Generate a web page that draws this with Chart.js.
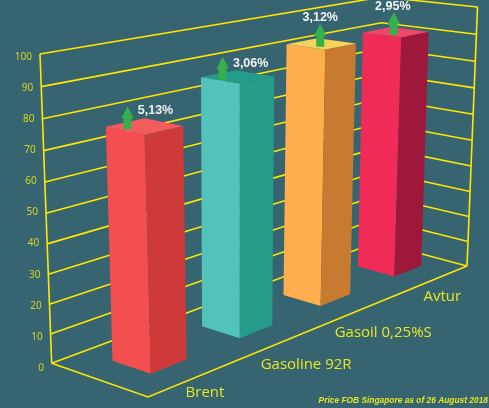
<!DOCTYPE html>
<html><head><meta charset="utf-8">
<script src="https://cdn.jsdelivr.net/npm/chart.js@4"></script>
<style>html,body{margin:0;padding:0;background:#366471;overflow:hidden}canvas{display:block}</style>
</head><body><canvas id="c" width="489" height="408"></canvas>
<script>
// ---- data ----
const categories = ['Brent', 'Gasoline 92R', 'Gasoil 0,25%S', 'Avtur'];
const prices = [77, 86.5, 92, 91];
const changes = ['5,13%', '3,06%', '3,12%', '2,95%'];
const yTicks = [0, 10, 20, 30, 40, 50, 60, 70, 80, 90, 100];
const sourceNote = 'Price FOB Singapore as of 26 August 2018';
// ---- colours ----
const frontColors = ['#F44F4F', '#52C2BA', '#FFAE4D', '#F02B55'];
const sideColors = ['#CE3939', '#259C8A', '#C67B30', '#9E183C'];
const topColors = ['#F45B5B', '#259C8A', '#F5D35B', '#F0466A'];
// ---- view of the box (screen corners of the floor and the roof) ----
const floorQuad = { F: [148, 397], R: [467, 266], B: [377, 242], L: [51.7, 363.3] };
const roofQuad = { F: [137, 71], R: [477.5, 7], B: [382, -3], L: [40, 54] };
const verticalBias = 1.06;
const depthRange = [0.3, 0.7];
const barNudge = 0.009;
const arrowShift = [[-17, 3], [-15, 3], [-1, 3], [-2, 3]];
const noteShift = [[28, -19], [28, -16], [0, -29], [-1, -29]];
const labelShift = [[10, 15], [24, 23], [22, 23], [9, 17]];

function quadMap(q) {
  const [x0, y0] = q.F, [x1, y1] = q.R, [x2, y2] = q.B, [x3, y3] = q.L;
  const dx1 = x1 - x2, dx2 = x3 - x2, sx = x0 - x1 + x2 - x3;
  const dy1 = y1 - y2, dy2 = y3 - y2, sy = y0 - y1 + y2 - y3;
  const d = dx1 * dy2 - dx2 * dy1;
  const g = (sx * dy2 - dx2 * sy) / d, h = (dx1 * sy - sx * dy1) / d;
  const a = x1 - x0 + g * x1, b = x3 - x0 + h * x3, c = x0;
  const e = y1 - y0 + g * y1, f = y3 - y0 + h * y3, k = y0;
  return (s, t) => {
    const w = g * s + h * t + 1;
    return [(a * s + b * t + c) / w, (e * s + f * t + k) / w];
  };
}
const floorAt = quadMap(floorQuad), roofAt = quadMap(roofQuad);
function project(s, t, v) {
  const p = floorAt(s, t), q = roofAt(s, t);
  const m = v / (v + (1 - v) * verticalBias);
  return [p[0] + (q[0] - p[0]) * m, p[1] + (q[1] - p[1]) * m];
}
function poly(ctx, pts, fill) {
  ctx.beginPath();
  pts.forEach((p, i) => i ? ctx.lineTo(p[0], p[1]) : ctx.moveTo(p[0], p[1]));
  ctx.closePath();
  ctx.fillStyle = fill;
  ctx.fill();
}
function path(ctx, pts) {
  ctx.beginPath();
  pts.forEach((p, i) => i ? ctx.lineTo(p[0], p[1]) : ctx.moveTo(p[0], p[1]));
  ctx.stroke();
}
function barBox(chart, el) {
  const a = chart.chartArea, { x, y, base, width } = el.getProps(['x', 'y', 'base', 'width'], true);
  return {
    s0: (x - width / 2 - a.left) / a.width + barNudge,
    s1: (x + width / 2 - a.left) / a.width + barNudge,
    v: (base - y) / a.height
  };
}
class Bar3DController extends Chart.BarController {
  draw() {
    const chart = this.chart, ctx = chart.ctx;
    const els = this.getMeta().data;
    for (let i = els.length - 1; i >= 0; i--) {
      const { s0, s1, v } = barBox(chart, els[i]);
      const [t0, t1] = depthRange;
      const c = (s, t, h) => project(s, t, h);
      poly(ctx, [c(s0, t1, 0), c(s0, t0, 0), c(s0, t0, v), c(s0, t1, v)], frontColors[i]);
      poly(ctx, [c(s0, t0, 0), c(s1, t0, 0), c(s1, t0, v), c(s0, t0, v)], sideColors[i]);
      poly(ctx, [c(s0, t0, v), c(s1, t0, v), c(s1, t1, v), c(s0, t1, v)], topColors[i]);
    }
  }
}
Bar3DController.id = 'bar3d';
Bar3DController.defaults = Chart.BarController.defaults;
Chart.register(Bar3DController);

const wallPlugin = {
  id: 'wall',
  beforeDatasetsDraw(chart) {
    const ctx = chart.ctx, y = chart.scales.y, x = chart.scales.x;
    ctx.save();
    ctx.strokeStyle = '#FFE800';
    ctx.lineWidth = 1.6;
    y.ticks.forEach(tick => {
      const v = (y.bottom - y.getPixelForValue(tick.value)) / y.height;
      path(ctx, [project(0, 1, v), project(1, 1, v), project(1, 0, v)]);
      ctx.fillStyle = '#D6D61F';
      ctx.font = "10px 'Noto Sans'";
      ctx.textAlign = 'right';
      ctx.textBaseline = 'middle';
      ctx.fillText(String(tick.value), 44 - 12 * v, y.getPixelForValue(tick.value));
    });
    path(ctx, [project(0, 1, 0), project(0, 1, 1)]);
    path(ctx, [project(1, 0, 0), project(1, 0, 1)]);
    path(ctx, [project(0, 1, 0), project(0, 0, 0), project(1, 0, 0)]);
    ctx.fillStyle = '#E8E820';
    ctx.font = "15px 'Open Sans'";
    ctx.textAlign = 'center';
    ctx.textBaseline = 'middle';
    categories.forEach((name, i) => {
      const s = (x.getPixelForValue(i) - x.left) / x.width;
      const p = project(s, 0, 0);
      ctx.fillText(name, p[0] + labelShift[i][0], p[1] + labelShift[i][1]);
    });
    ctx.restore();
  },
  afterDatasetsDraw(chart) {
    const ctx = chart.ctx, els = chart.getDatasetMeta(0).data;
    ctx.save();
    els.forEach((el, i) => {
      const { s0, s1, v } = barBox(chart, el);
      const top = project((s0 + s1) / 2, 0.5, v);
      const ax = top[0] + arrowShift[i][0], ay = top[1] + arrowShift[i][1];
      poly(ctx, [[ax - 4, ay], [ax + 4, ay], [ax + 4, ay - 11], [ax + 6.2, ay - 11], [ax, ay - 23], [ax - 6.2, ay - 11], [ax - 4, ay - 11]], '#36B04A');
      ctx.fillStyle = '#F2F2F2';
      ctx.font = "bold 12.5px 'Liberation Sans'";
      ctx.textAlign = 'center';
      ctx.textBaseline = 'middle';
      ctx.fillText(changes[i], ax + noteShift[i][0], ay + noteShift[i][1]);
    });
    ctx.fillStyle = '#E8E820';
    ctx.font = "italic bold 8.4px 'Liberation Sans'";
    ctx.textAlign = 'right';
    ctx.textBaseline = 'middle';
    ctx.fillText(sourceNote, 488, 401);
    ctx.restore();
  }
};

new Chart(document.getElementById('c'), {
  type: 'bar3d',
  data: {
    labels: categories,
    datasets: [{ data: prices, backgroundColor: frontColors, barPercentage: 0.39, categoryPercentage: 1, clip: false }]
  },
  options: {
    responsive: false,
    animation: false,
    devicePixelRatio: 1,
    layout: { padding: { left: 44, right: 19, top: 57, bottom: 40 } },
    plugins: { legend: { display: false }, tooltip: { enabled: false }, title: { display: false } },
    scales: {
      x: { type: 'category', display: false },
      y: { type: 'linear', display: false, min: 0, max: 100, afterBuildTicks: s => { s.ticks = yTicks.map(value => ({ value })); } }
    }
  },
  plugins: [wallPlugin]
});
</script>
</body></html>
